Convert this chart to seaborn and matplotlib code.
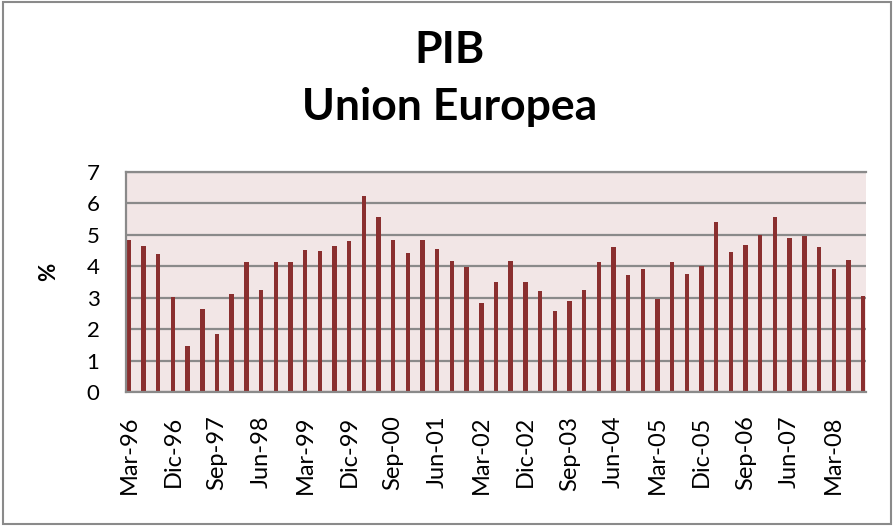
import numpy as np
import pandas as pd
import matplotlib
matplotlib.use('Agg')
import matplotlib.pyplot as plt
from matplotlib.patches import Rectangle
import seaborn as sns

# quarterly GDP growth, Mar-96 .. Sep-08
months = ['Mar', 'Jun', 'Sep', 'Dic']
years = ['96', '97', '98', '99', '00', '01', '02', '03', '04', '05', '06', '07', '08']
pib = [4.85, 4.63, 4.39, 3.01, 1.47, 2.63, 1.84, 3.12, 4.12, 3.25,
       4.12, 4.12, 4.53, 4.50, 4.63, 4.79, 6.24, 5.57, 4.83, 4.41,
       4.83, 4.55, 4.17, 3.98, 2.84, 3.50, 4.17, 3.49, 3.21, 2.58,
       2.89, 3.25, 4.13, 4.60, 3.73, 3.90, 2.97, 4.14, 3.74, 4.00,
       5.42, 4.46, 4.68, 4.99, 5.58, 4.89, 4.97, 4.61, 3.91, 4.19,
       3.05]
quarters = [f'{m}-{y}' for y in years for m in months][:len(pib)]

df = pd.DataFrame({'trimestre': quarters, 'pib': pib})

sns.set_style('white')
plt.rcParams['font.family'] = ['Lato', 'DejaVu Sans']
plt.rcParams['text.color'] = 'black'
plt.rcParams['xtick.color'] = 'black'
plt.rcParams['ytick.color'] = 'black'

fig = plt.figure(figsize=(8.94, 5.26), dpi=100)
ax = fig.add_axes([0.1409, 0.2548, 0.8278, 0.4183])
ax.set_axisbelow(True)

sns.barplot(data=df, x='trimestre', y='pib', color='#8A2F2F', saturation=1,
            width=0.3, linewidth=0, ax=ax)

grid_c = '#8a8a8a'
ax.set_facecolor('#F2E6E6')
ax.set_ylim(0, 7)
ax.set_xlim(-0.2, len(pib) - 0.8)
ax.set_yticks(range(0, 8))
ax.yaxis.grid(True, color=grid_c, lw=1.6)
ax.xaxis.grid(False)

ax.set_xticks(range(0, len(pib), 3))
ax.set_xticklabels(quarters[::3], rotation=90, fontsize=17)
ax.tick_params(axis='x', length=0, pad=17, labelcolor='black')
ax.tick_params(axis='y', length=0, pad=19, labelsize=16, labelcolor='black')
ax.set_xlabel('')
ax.set_ylabel('')

for s in ['left', 'bottom', 'top']:
    ax.spines[s].set_color(grid_c)
    ax.spines[s].set_linewidth(1.6)
ax.spines['right'].set_visible(False)

fig.text(0.054, 0.483, '%', rotation=90, fontsize=16, fontweight='bold',
         ha='center', va='center', color='black')
fig.text(0.503, 0.880, 'PIB', fontsize=32, fontweight='bold',
         ha='center', va='baseline', color='black')
fig.text(0.503, 0.772, 'Union Europea', fontsize=32, fontweight='bold',
         ha='center', va='baseline', color='black')

# outer chart border
fig.patches.append(Rectangle((0.003, 0.003), 0.994, 0.993, transform=fig.transFigure,
                             fill=False, edgecolor='#8a8a8a', lw=1.5))

fig.savefig('out.png', dpi=100)
